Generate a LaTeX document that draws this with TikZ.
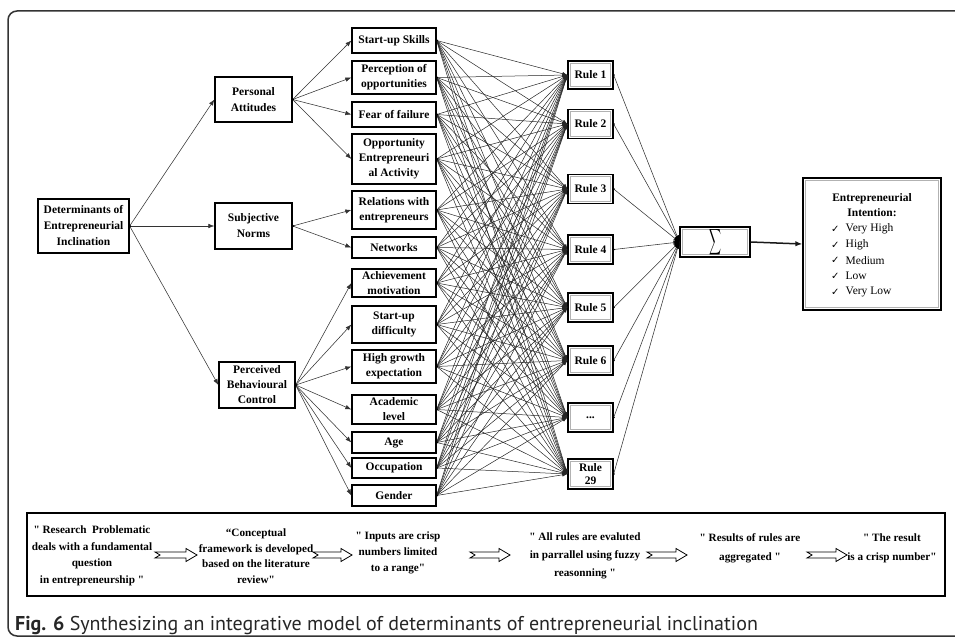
\documentclass[tikz,border=0pt]{standalone}
\usepackage{fontspec}
\usepackage{graphicx}
\setmainfont{Liberation Serif}[Ligatures=TeXOff]
\newfontfamily\capfont{PT Sans}
\newfontfamily\symfont{DejaVu Sans}
\usetikzlibrary{arrows.meta}
\begin{document}
\begin{tikzpicture}[x=1pt,y=-1pt,
  box/.style={draw=black, line width=1.3pt, align=center, inner sep=0pt, font=\bfseries\fontsize{11.5}{15}\selectfont, text=black},
  mid/.style={box, minimum width=84pt},
  dbl/.style={box, path picture={\draw[black!30, line width=0.9pt] ([shift={(2.4pt,-2.4pt)}]path picture bounding box.north west) rectangle ([shift={(-2.4pt,2.4pt)}]path picture bounding box.south east);}},
  rulebox/.style={dbl, minimum width=45pt, minimum height=29pt},
  conn/.style={draw=black!80, line width=0.55pt, -{Latex[length=6pt,width=4.5pt]}},
  fan/.style={draw=black!85, line width=0.5pt, -{Latex[length=5pt,width=3.6pt]}},
  txt/.style={align=center, inner sep=0pt, font=\bfseries\fontsize{11.2}{16}\selectfont},
  item/.style={anchor=west, inner sep=0pt, font=\fontsize{11.5}{14}\selectfont},
  chk/.style={anchor=west, inner sep=0pt, font=\symfont\fontsize{10}{10}\selectfont},
  blockarr/.style={draw=black, line width=0.8pt, fill=white, line join=miter},
]
\useasboundingbox (0,0) rectangle (955,639);
\begin{scope}
\clip (0,0) rectangle (955,639);
\draw[line width=1.5pt, draw=black!80, rounded corners=9pt] (8,11) rectangle (990,636);
\end{scope}

% level 0 and 1
\node[box, minimum width=91pt, minimum height=54pt, font=\bfseries\fontsize{11.5}{16}\selectfont] (d0) at (83.5,226) {Determinants of\\Entrepreneurial\\Inclination};
\node[box, minimum width=77pt, minimum height=45pt, font=\bfseries\fontsize{11.5}{16}\selectfont] (p1) at (253.5,99.5) {Personal\\Attitudes};
\node[box, minimum width=77pt, minimum height=46pt, font=\bfseries\fontsize{11.5}{16}\selectfont] (p2) at (253.5,226) {Subjective\\Norms};
\node[box, minimum width=76pt, minimum height=46pt, font=\bfseries\fontsize{11.5}{15}\selectfont] (p3) at (257,385) {Perceived\\Behavioural\\Control};

% level 2
\node[mid, minimum height=25pt] (s1) at (394,40.5) {Start-up Skills};
\node[mid, minimum height=33pt] (s2) at (394,77.5) {Perception of\\opportunities};
\node[mid, minimum height=25pt] (s3) at (394,114.5) {Fear of failure};
\node[mid, minimum height=50pt] (s4) at (394,159) {Opportunity\\Entrepreneuri\\al Activity};
\node[mid, minimum height=38pt] (s5) at (394,210) {Relations with\\entrepreneurs};
\node[mid, minimum height=21pt] (s6) at (394,247.5) {Networks};
\node[mid, minimum height=28pt] (s7) at (394,283) {Achievement\\motivation};
\node[mid, minimum height=37pt] (s8) at (394,324.5) {Start-up\\difficulty};
\node[mid, minimum height=33pt] (s9) at (394,366.5) {High growth\\expectation};
\node[mid, minimum height=29pt] (s10) at (394,409.5) {Academic\\level};
\node[mid, minimum height=21pt] (s11) at (394,442.5) {Age};
\node[mid, minimum height=20pt] (s12) at (394,468) {Occupation};
\node[mid, minimum height=21pt] (s13) at (394,495.5) {Gender};

% rules
\node[rulebox, minimum height=28pt] (r1) at (590.5,75) {Rule 1};
\node[rulebox] (r2) at (590.5,124) {Rule 2};
\node[rulebox] (r3) at (590.5,189) {Rule 3};
\node[rulebox] (r4) at (590.5,249.5) {Rule 4};
\node[rulebox] (r5) at (590.5,307.5) {Rule 5};
\node[rulebox] (r6) at (590.5,360.5) {Rule 6};
\node[rulebox] (r7) at (590.5,417.5) {...};
\node[rulebox, minimum height=30pt, font=\bfseries\fontsize{11.5}{13.5}\selectfont] (r8) at (590.5,474) {Rule\\29};

% aggregation and output
\node[dbl, minimum width=70pt, minimum height=30pt] (sum) at (715,242) {\resizebox{12pt}{20pt}{$\displaystyle\sum$}};
\node[dbl, minimum width=138pt, minimum height=132pt] (ei) at (872,244) {};
\node[align=center, inner sep=0pt, font=\bfseries\fontsize{11.5}{15}\selectfont] (eit) at (872,205.5) {Entrepreneurial\\Intention:};
\foreach \n/\y/\t in {1/229/Very High,2/245/High,3/260.5/Medium,4/276/Low,5/292/Very Low}{
  \node[chk] (c\n) at (831,\y) {✓};
  \node[item] (e\n) at (845.5,\y) {\t};
}

% connectors level 1
\draw[conn] (d0.east) -- (p1.west);
\draw[conn] (d0.east) -- (p2.west);
\draw[conn] (d0.east) -- (p3.west);
\fill (d0.east) circle[radius=1.5pt];
% level 2
\foreach \i in {1,2,3,4}{\draw[conn] (p1.east) -- (s\i.west);}
\foreach \i in {5,6}{\draw[conn] (p2.east) -- (s\i.west);}
\foreach \i in {7,...,13}{\draw[conn] (p3.east) -- (s\i.west);}
\foreach \p in {p1,p2,p3}{\fill (\p.east) circle[radius=1.5pt];}
% level 3
\foreach \i in {1,...,13}{
  \foreach \j in {1,...,8}{\draw[fan] (s\i.east) -- (r\j.west);}
  \fill (s\i.east) circle[radius=1.5pt];
}
% level 4
\foreach \j in {1,...,8}{
  \draw[conn] (r\j.east) -- (sum.west);
  \fill (r\j.east) circle[radius=1.3pt];
}
\fill (sum.west) ++(0pt,7pt) arc[start angle=90,end angle=270,x radius=5pt,y radius=7pt] -- cycle;
% level 5
\draw[line width=1.5pt, draw=black!90, -{Latex[length=7pt,width=5.5pt]}] (sum.east) -- (ei.west);

% bottom process box
\node[draw=black, line width=1.3pt, minimum width=918pt, minimum height=83pt, inner sep=0pt] (bot) at (486,554.5) {};
\node[txt, font=\bfseries\fontsize{11.2}{16.5}\selectfont] (t1) at (92,556) {" Research\ \ Problematic\\deals with a fundamental\\question\\in entrepreneurship "};
\node[txt, font=\bfseries\fontsize{11.2}{15.5}\selectfont] (t2) at (256,556) {“Conceptual\\framework is developed\\based on the literature\\review"};
\node[txt] (t3) at (398,553) {" Inputs are crisp\\numbers limited\\to a range"};
\node[txt, font=\bfseries\fontsize{11.2}{18}\selectfont] (t4) at (585,556) {" All rules are evaluted\\in parrallel using fuzzy\\reasonning "};
\node[txt, font=\bfseries\fontsize{11.2}{18.5}\selectfont] (t5) at (750,548.5) {" Results of rules are\\aggregated "};
\node[txt, font=\bfseries\fontsize{11.2}{18.5}\selectfont] (t6) at (892,548.5) {" The result\\is a crisp number"};
\foreach \a/\b in {155/197,313/352,470/510,647/687,807/847}{
  \draw[blockarr] (\a,552) -- (\b-11,552) -- (\b-11,548.5) -- (\b,555) -- (\b-11,561.5) -- (\b-11,558) -- (\a,558) -- (\a+5,555) -- cycle;
}

% caption
\node[anchor=base west, inner sep=0pt, font=\capfont\fontsize{20}{22}\selectfont, text=black!85] (cap) at (15,630) {\textbf{Fig. 6} Synthesizing an integrative model of determinants of entrepreneurial inclination};
\end{tikzpicture}
\end{document}
